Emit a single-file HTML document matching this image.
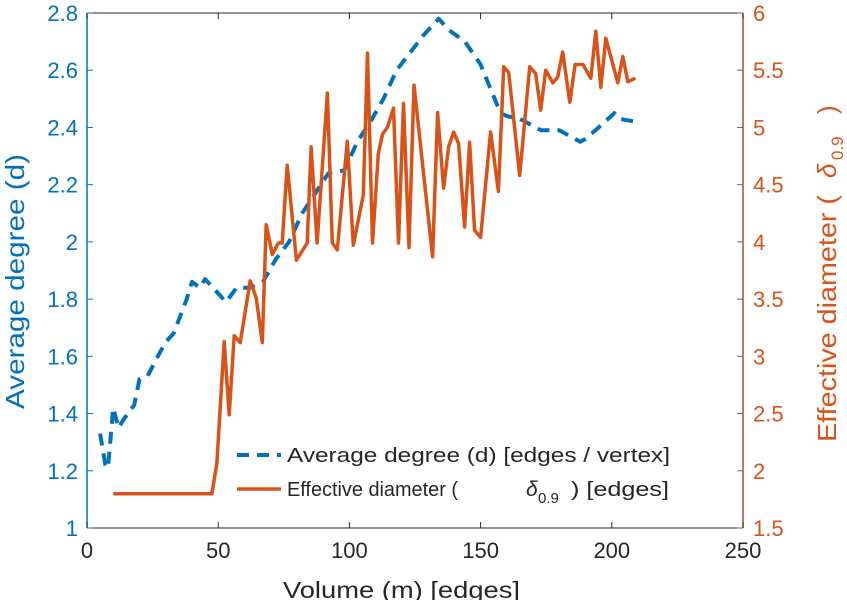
<!DOCTYPE html>
<html><head><meta charset="utf-8"><style>
html,body{margin:0;padding:0;background:#fff;}
svg{display:block;font-family:"Liberation Sans",Arial,sans-serif;}
</style></head><body>
<svg id="chart" width="847" height="600" viewBox="0 0 847 600" xmlns="http://www.w3.org/2000/svg">
<g id="axes"></g>
<g id="series"></g>
<g id="legend">
  <line x1="237" y1="455" x2="281" y2="455" stroke="#0072BD" stroke-width="4" stroke-dasharray="12,8"/>
  <text x="287" y="462" font-size="20" fill="#262626" textLength="383" lengthAdjust="spacingAndGlyphs">Average degree (d) [edges / vertex]</text>
  <line x1="237" y1="489" x2="281" y2="489" stroke="#D95319" stroke-width="3.5"/>
  <text x="287" y="496" font-size="20" fill="#262626" textLength="171" lengthAdjust="spacingAndGlyphs">Effective diameter (</text>
  <text x="526" y="496" font-size="21" font-style="italic" fill="#262626">δ</text>
  <text x="538" y="503" font-size="15" fill="#262626">0.9</text>
  <text x="571" y="496" font-size="20" fill="#262626" textLength="98" lengthAdjust="spacingAndGlyphs">) [edges]</text>
</g>
<text x="283" y="598" font-size="23" fill="#262626" textLength="237" lengthAdjust="spacingAndGlyphs">Volume (m) [edges]</text>
<text transform="translate(24,409) rotate(-90)" font-size="26" fill="#0072BD" textLength="255" lengthAdjust="spacingAndGlyphs">Average degree (d)</text>
<g fill="#D95319">
  <text transform="translate(836,442) rotate(-90)" font-size="26" textLength="247" lengthAdjust="spacingAndGlyphs">Effective diameter (</text>
  <text transform="translate(836,178) rotate(-90)" font-size="26" font-style="italic">δ</text>
  <text transform="translate(843,160) rotate(-90)" font-size="17">0.9</text>
  <text transform="translate(836,114) rotate(-90)" font-size="26">)</text>
</g>
</svg>
<script>
const xTicks=[0,50,100,150,200,250];
const leftTicks=[1,1.2,1.4,1.6,1.8,2,2.2,2.4,2.6,2.8];
const leftTickLabels=["1","1.2","1.4","1.6","1.8","2","2.2","2.4","2.6","2.8"];
const rightTicks=[1.5,2,2.5,3,3.5,4,4.5,5,5.5,6];
const rightTickLabels=["1.5","2","2.5","3","3.5","4","4.5","5","5.5","6"];
const degX=[5,7,8,10,12,14,18,20,23,27,30,33,38,40,43,45,48,53,57,62,67,72,77,82,87,92,98,103,108,113,118,123,128,134,138,144,150,157.6,160,165,173,180,188,190,195,201,203,209];
const degY=[1.33,1.22,1.21,1.42,1.35,1.38,1.43,1.52,1.53,1.6,1.65,1.68,1.8,1.86,1.84,1.87,1.84,1.79,1.84,1.84,1.86,1.94,2.0,2.1,2.17,2.24,2.25,2.35,2.42,2.5,2.6,2.66,2.72,2.78,2.74,2.70,2.62,2.45,2.44,2.43,2.39,2.39,2.35,2.36,2.4,2.45,2.43,2.42];
const diaX=[10,47.6,49.5,52.3,54.2,56.1,58.4,62.2,64.5,66.8,68.3,70.6,72.9,74.4,76.3,79.8,83.9,85.4,87.7,91.6,93.5,95.4,99.2,101.5,105.3,106.9,108.8,111,112.6,114.5,116.8,118.7,120.6,122.7,124.6,131.7,133.6,135.9,137.8,139.7,141.6,143.9,145.8,147.7,150,153.8,156.8,158.8,160.7,164.9,168.7,171,172.9,174.8,177.5,179.4,181.3,184,186,189,192,193.9,195.8,197.7,202.3,204.2,206.1,209];
const diaY=[1.8,1.8,2.07,3.13,2.49,3.18,3.12,3.66,3.51,3.12,4.15,3.89,3.99,3.99,4.67,3.84,3.99,4.83,3.99,5.30,3.99,3.93,4.88,3.97,4.41,5.65,3.99,4.77,4.94,5.0,5.17,3.99,5.21,3.95,5.37,3.87,5.13,4.47,4.83,4.96,4.86,4.13,4.87,4.10,4.04,4.96,4.44,5.53,5.48,4.58,5.53,5.47,5.15,5.50,5.39,5.44,5.66,5.22,5.55,5.55,5.43,5.84,5.35,5.78,5.39,5.62,5.40,5.43];

const PL=87,PR=743,PT=13,PB=528;
const xs=v=>PL+v/250*(PR-PL);
const yl=v=>PB-(v-1)/1.8*(PB-PT);
const yr=v=>PB-(v-1.5)/4.5*(PB-PT);
const NS="http://www.w3.org/2000/svg";
const axesG=document.getElementById('axes'),seriesG=document.getElementById('series');
function mk(tag,attrs,parent){const e=document.createElementNS(NS,tag);for(const k in attrs)e.setAttribute(k,attrs[k]);parent.appendChild(e);return e;}
const topLine=mk('line',{x1:PL,y1:PT,x2:PR,y2:PT,stroke:'#262626','stroke-width':1},axesG);


const botLine=mk('line',{x1:PL,y1:PB,x2:PR,y2:PB,stroke:'#262626','stroke-width':1},axesG);


const leftAxis=mk('line',{x1:PL,y1:PT,x2:PL,y2:PB,stroke:'#0072BD','stroke-width':1.5},axesG);


const rightAxis=mk('line',{x1:PR,y1:PT,x2:PR,y2:PB,stroke:'#A0522D','stroke-width':1.5},axesG);


xTicks.forEach(v=>{
  const x=xs(v);
  mk('line',{x1:x,y1:PB,x2:x,y2:PB-6,stroke:'#262626'},axesG);
  mk('line',{x1:x,y1:PT,x2:x,y2:PT+6,stroke:'#262626'},axesG);
  const t=mk('text',{x:x,y:PB+30,'font-size':22,fill:'#262626','text-anchor':'middle'},axesG);
  t.textContent=String(v);
  
  
});
leftTicks.forEach((v,i)=>{
  const y=yl(v);
  mk('line',{x1:PL,y1:y,x2:PL+6,y2:y,stroke:'#0072BD'},axesG);
  const t=mk('text',{x:PL-9,y:y+8,'font-size':22,fill:'#0072BD','text-anchor':'end'},axesG);
  t.textContent=leftTickLabels[i];
  
  
});
rightTicks.forEach((v,i)=>{
  const y=yr(v);
  mk('line',{x1:PR,y1:y,x2:PR-6,y2:y,stroke:'#A0522D'},axesG);
  const t=mk('text',{x:PR+10,y:y+8,'font-size':22,fill:'#D95319','text-anchor':'start'},axesG);
  t.textContent=rightTickLabels[i];
  
  
});
const dp=degX.map((v,i)=>xs(v).toFixed(1)+','+yl(degY[i]).toFixed(1)).join(' ');
const dl=mk('polyline',{points:dp,fill:'none',stroke:'#0072BD','stroke-width':4,'stroke-dasharray':'12,8','stroke-linejoin':'round'},seriesG);


const ep=diaX.map((v,i)=>xs(v).toFixed(1)+','+yr(diaY[i]).toFixed(1)).join(' ');
const el=mk('polyline',{points:ep,fill:'none',stroke:'#D95319','stroke-width':3.5,'stroke-linejoin':'round'},seriesG);


</script>
</body></html>
